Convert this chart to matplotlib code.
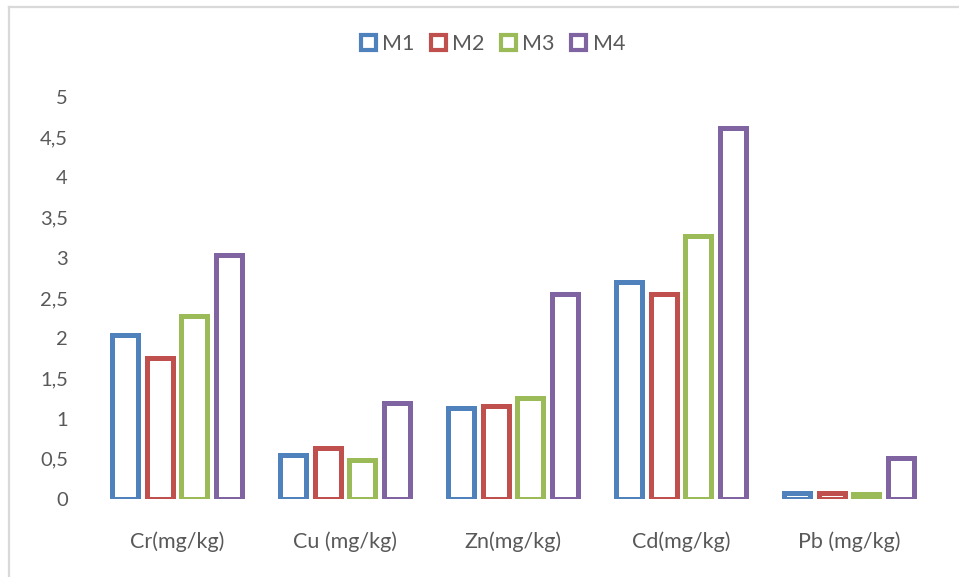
import matplotlib
matplotlib.use("Agg")
import matplotlib.pyplot as plt
from matplotlib.patches import Rectangle
from matplotlib.lines import Line2D
import numpy as np

categories = ["Cr(mg/kg)", "Cu (mg/kg)", "Zn(mg/kg)", "Cd(mg/kg)", "Pb (mg/kg)"]
series_names = ["M1", "M2", "M3", "M4"]
M1 = [2.04, 0.55, 1.13, 2.70, 0.08]
M2 = [1.75, 0.63, 1.16, 2.55, 0.08]
M3 = [2.28, 0.49, 1.26, 3.27, 0.06]
M4 = [3.04, 1.20, 2.55, 4.61, 0.51]
series = [M1, M2, M3, M4]
colors = ["#4F81BD", "#C0504D", "#9BBB59", "#8064A2"]
yticks = [0, 0.5, 1, 1.5, 2, 2.5, 3, 3.5, 4, 4.5, 5]
ytick_labels = ["0", "0,5", "1", "1,5", "2", "2,5", "3", "3,5", "4", "4,5", "5"]

plt.rcParams['font.family'] = ['Lato', 'DejaVu Sans']
W, H = 959, 577
fig = plt.figure(figsize=(W / 100, H / 100), dpi=100)
fig.patch.set_facecolor("white")

ax = fig.add_axes([93 / W, (H - 499) / H, (933 - 93) / W, (499 - 97) / H])
x = np.arange(len(categories))
pitch = 0.205
bw = 0.155
lw = 3.6
for j, (vals, c) in enumerate(zip(series, colors)):
    ax.bar(x + (j - 1.5) * pitch, vals, width=bw, facecolor="white",
           edgecolor=c, linewidth=lw, label=series_names[j], zorder=3)

ax.set_xlim(-0.5, len(categories) - 0.5)
ax.set_ylim(0, 5)
ax.set_yticks(yticks)
ax.set_yticklabels(ytick_labels)
ax.set_xticks(x)
ax.set_xticklabels(categories)
for s in ax.spines.values():
    s.set_visible(False)
ax.tick_params(axis="both", length=0, colors="#595959")
ax.tick_params(axis="y", pad=18, labelsize=14.5)
ax.tick_params(axis="x", pad=23, labelsize=15.5)

handles = [Rectangle((0, 0), 1, 1, facecolor="white", edgecolor=c, linewidth=3) for c in colors]
leg = fig.legend(handles, series_names, loc="center", bbox_to_anchor=(493 / W, 1 - 44 / H),
                 ncol=4, frameon=False, fontsize=15.5, handlelength=0.7, handleheight=0.7,
                 handletextpad=0.3, columnspacing=0.75)
for t in leg.get_texts():
    t.set_color("#595959")

# outer chart border (light gray)
fig.add_artist(Line2D([9 / W, 9 / W], [0, 1 - 7 / H], transform=fig.transFigure,
                      color="#d9d9d9", linewidth=1.6))
fig.add_artist(Line2D([9 / W, 1], [1 - 7 / H, 1 - 7 / H], transform=fig.transFigure,
                      color="#d9d9d9", linewidth=1.6))

fig.savefig("out.png", dpi=100)
